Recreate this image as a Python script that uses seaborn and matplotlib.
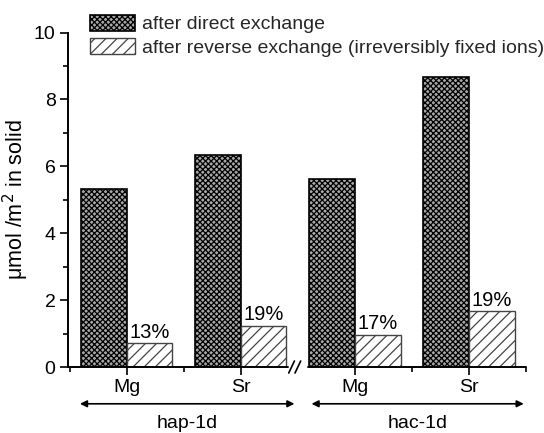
import matplotlib
matplotlib.use("Agg")
import matplotlib.pyplot as plt
import seaborn as sns
import pandas as pd
import numpy as np

# ---- data ----
groups = ["hap-1d", "hap-1d", "hac-1d", "hac-1d"]
ions = ["Mg", "Sr", "Mg", "Sr"]
direct = [5.31, 6.35, 5.62, 8.67]
reverse = [0.71, 1.23, 0.96, 1.67]
pct_labels = ["13%", "19%", "17%", "19%"]
series = ["after direct exchange", "after reverse exchange (irreversibly fixed ions)"]
yticks = [0, 2, 4, 6, 8, 10]

cats = [f"{g} {i}" for g, i in zip(groups, ions)]
df = pd.DataFrame({
    "cat": cats * 2,
    "value": direct + reverse,
    "series": [series[0]] * 4 + [series[1]] * 4,
})

sns.set_theme(style="ticks")
plt.rcParams["font.family"] = ["Liberation Sans", "DejaVu Sans"]
plt.rcParams["hatch.linewidth"] = 0.9

fig = plt.figure(figsize=(5.44, 4.33), dpi=100)
ax = fig.add_axes([68 / 544, 66 / 433, (526 - 68) / 544, (367 - 32.5) / 433])

sns.barplot(data=df, x="cat", y="value", hue="series", order=cats,
            hue_order=series, width=0.8, ax=ax, legend=False)

for p in ax.containers[0]:
    p.set_facecolor("#a8a8a8")
    p.set_edgecolor("black")
    p.set_hatch("xxxxxx")
    p.set_linewidth(1.2)
for p in ax.containers[1]:
    p.set_facecolor("white")
    p.set_edgecolor("#444444")
    p.set_hatch("///")
    p.set_linewidth(1.0)

ax.bar_label(ax.containers[1], labels=pct_labels, padding=1, fontsize=14.5, color="black")

ax.set_ylim(0, 10)
ax.set_xlim(-0.515, 3.5)
ax.set_yticks(yticks)
ax.set_yticks([1, 3, 5, 7, 9], minor=True)
ax.set_xticks(range(4))
ax.set_xticklabels(ions)
ax.set_xticks([-0.5, 0.5, 2.5, 3.5], minor=True)
ax.set_xlabel("")
ax.set_ylabel("μmol /m$^2$ in solid", fontsize=15.5, color="black", labelpad=2)

ax.tick_params(axis="both", which="major", labelsize=14, length=6, width=1.2,
               direction="out", colors="black", pad=3)
ax.tick_params(axis="both", which="minor", length=3.5, width=1.2, direction="out", colors="black")

for s in ["top", "right", "bottom"]:
    ax.spines[s].set_visible(False)
ax.spines["left"].set_linewidth(1.4)
ax.spines["left"].set_color("black")

trans = ax.get_xaxis_transform()
ax.plot([-0.515, 1.41], [0, 0], color="black", lw=1.4, transform=trans, clip_on=False)
ax.plot([1.585, 3.5], [0, 0], color="black", lw=1.4, transform=trans, clip_on=False)
# break marks
for xb in [1.445, 1.50]:
    ax.plot([xb - 0.025, xb + 0.025], [-0.018, 0.018], color="black", lw=1.2,
            transform=trans, clip_on=False)

# group arrows
arrow_y = -0.11
label_y = -0.168
for (x0, x1, name) in [(-0.41, 1.47, "hap-1d"), (1.62, 3.48, "hac-1d")]:
    ax.annotate("", xy=(x0, arrow_y), xytext=(x1, arrow_y), xycoords=trans,
                textcoords=trans,
                arrowprops=dict(arrowstyle="<|-|>", color="black", lw=1.2,
                                mutation_scale=10, shrinkA=0, shrinkB=0))
    ax.text((x0 + x1) / 2, label_y, name, transform=trans, ha="center", va="center",
            fontsize=14, color="black")

handles = [ax.containers[0][0], ax.containers[1][0]]
leg = ax.legend(handles, series, loc="upper left", bbox_to_anchor=(90 / 544, 1 - 15 / 433),
                bbox_transform=fig.transFigure, frameon=False, fontsize=14,
                handlelength=2.3, handleheight=0.85, handletextpad=0.35,
                labelspacing=0.25, borderpad=0, borderaxespad=0)

fig.savefig("out.png", dpi=100)
